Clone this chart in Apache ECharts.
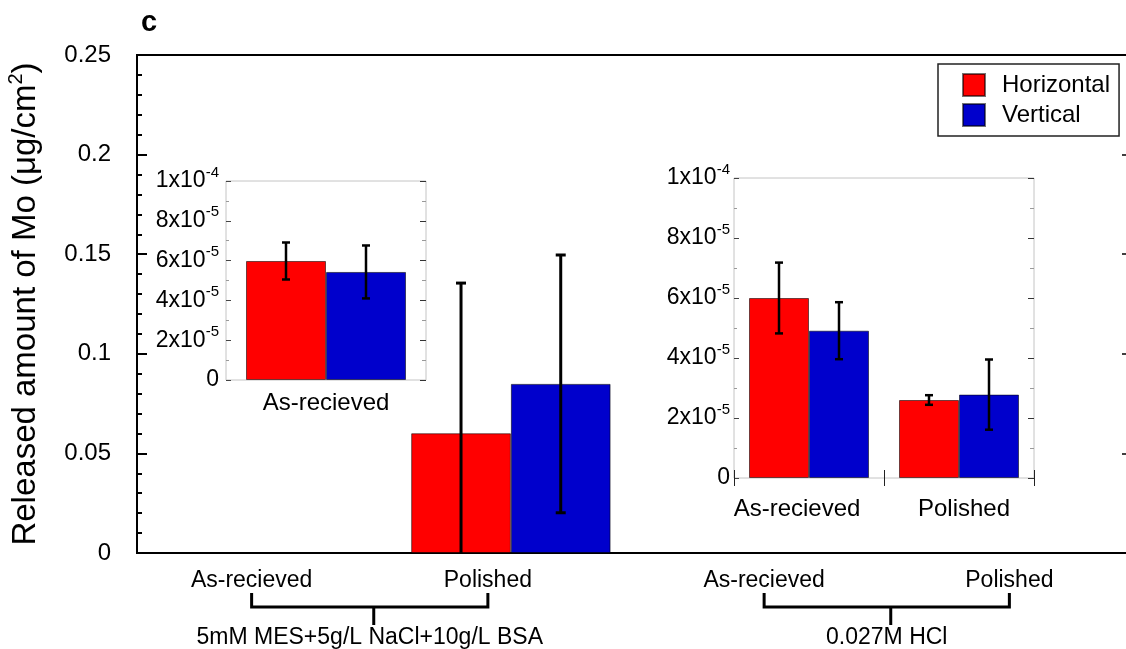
<!DOCTYPE html>
<html>
<head>
<meta charset="utf-8">
<script src="https://cdn.jsdelivr.net/npm/echarts@6/dist/echarts.min.js"></script>
<style>
  html, body { margin: 0; padding: 0; background: #fff; }
  #chart { width: 1126px; height: 649px; }
</style>
</head>
<body>
<div id="chart"></div>
<script>
// Surface condition for each bar pair, and the solution each pair was tested in
const conditions = ['As-recieved', 'Polished', 'As-recieved', 'Polished'];
const solutions = ['5mM MES+5g/L NaCl+10g/L BSA', '0.027M HCl'];
const solutionOf = [0, 0, 1, 1];

// Released Mo (µg/cm²), mean and ± error, per orientation
const horizontal    = [5.98e-5, 0.0601, 6.0e-5, 2.6e-5];
const horizontalErr = [0.93e-5, 0.0754, 1.18e-5, 0.16e-5];
const vertical      = [5.43e-5, 0.0849, 4.91e-5, 2.78e-5];
const verticalErr   = [1.33e-5, 0.0647, 0.95e-5, 1.17e-5];

// Which bars the two zoomed panels show
const insetLeft = [0];
const insetRight = [2, 3];

const mainTicks = { min: 0, max: 0.25, interval: 0.05 };
const insetTicks = { min: 0, max: 1e-4, interval: 2e-5 };

// Horizontal nudge of each category label (px)
const LABEL_SHIFT = [-10, -23, 4, 0];
const INSET_LABEL_SHIFT = [-12, 5];

const FONT = '"Liberation Sans", Arial, Helvetica, sans-serif';
const RED = '#ff0000';
const BLUE = '#0000cc';

const chart = echarts.init(document.getElementById('chart'), null, { renderer: 'canvas' });

function sciLabel(v) {
  if (v === 0) return '0';
  const parts = v.toExponential(0).split('e');
  return parts[0] + 'x10{s|' + parts[1].replace('+', '') + '}';
}

function errRender(side, capHalf, lw) {
  return function (params, api) {
    const c = api.value(0);
    const lo = api.coord([c, api.value(1)]);
    const hi = api.coord([c, api.value(2)]);
    if (Math.abs(lo[1] - hi[1]) < 1) return null;
    const bw = api.size([1, 0])[0];
    const x = lo[0] + side * bw * 0.2;
    const style = { stroke: '#000', lineWidth: lw };
    return {
      type: 'group',
      children: [
        { type: 'line', shape: { x1: x, y1: lo[1], x2: x, y2: hi[1] }, style: style },
        { type: 'line', shape: { x1: x - capHalf, y1: hi[1], x2: x + capHalf, y2: hi[1] }, style: style },
        { type: 'line', shape: { x1: x - capHalf, y1: lo[1], x2: x + capHalf, y2: lo[1] }, style: style }
      ]
    };
  };
}

function pick(arr, idx) { return idx.map(i => arr[i]); }

function barPair(xi, yi, idx) {
  const common = {
    type: 'bar', xAxisIndex: xi, yAxisIndex: yi,
    barGap: '0%', barCategoryGap: '20%',
    itemStyle: { borderColor: 'rgba(0,0,0,0.55)', borderWidth: 1 },
    emphasis: { disabled: true }
  };
  return [
    Object.assign({}, common, { name: 'Horizontal', data: pick(horizontal, idx),
      itemStyle: Object.assign({}, common.itemStyle, { color: RED }) }),
    Object.assign({}, common, { name: 'Vertical', data: pick(vertical, idx),
      itemStyle: Object.assign({}, common.itemStyle, { color: BLUE }) })
  ];
}

function errPair(xi, yi, idx, capHalf, lw) {
  const mk = (vals, errs) => idx.map((k, j) => [j, vals[k] - errs[k], vals[k] + errs[k]]);
  const common = { type: 'custom', xAxisIndex: xi, yAxisIndex: yi, clip: true, z: 5, silent: true,
    encode: { x: 0, y: [1, 2] } };
  return [
    Object.assign({}, common, { renderItem: errRender(-1, capHalf, lw), data: mk(horizontal, horizontalErr) }),
    Object.assign({}, common, { renderItem: errRender(1, capHalf, lw), data: mk(vertical, verticalErr) })
  ];
}

const insetYLabel = (fs, margin) => ({
  fontFamily: FONT, color: '#000', margin: margin,
  formatter: sciLabel,
  rich: {
    s: { fontFamily: FONT, fontSize: 15, lineHeight: 15, verticalAlign: 'top', color: '#000' }
  },
  fontSize: fs, lineHeight: 32
});

function insetYAxes(gi, labelMargin) {
  return [
    Object.assign({ type: 'value', gridIndex: gi, position: 'left' }, insetTicks, {
      axisLine: { show: false }, splitLine: { show: false },
      axisTick: { show: true, inside: true, length: 5, lineStyle: { color: '#444', width: 1 } },
      minorTick: { show: true, splitNumber: 2, length: 3, lineStyle: { color: '#999', width: 1 } },
      axisLabel: insetYLabel(23, labelMargin)
    }),
    Object.assign({ type: 'value', gridIndex: gi, position: 'right' }, insetTicks, {
      axisLine: { show: false }, splitLine: { show: false },
      axisTick: { show: true, inside: true, length: 6, lineStyle: { color: '#333', width: 1 } },
      minorTick: { show: true, splitNumber: 2, length: 4, lineStyle: { color: '#999', width: 1 } },
      axisLabel: { show: false }
    })
  ];
}

function shiftedRich(shifts, fs) {
  const r = {};
  shifts.forEach((s, i) => {
    r['l' + i] = {
      fontFamily: FONT, fontSize: fs, color: '#000',
      padding: s < 0 ? [0, -2 * s, 0, 0] : [0, 0, 0, 2 * s]
    };
  });
  return r;
}
const shiftedFormatter = (v, i) => '{l' + i + '|' + v + '}';

const gridBase = { outerBoundsMode: 'none', containLabel: false };

const option = {
  backgroundColor: '#fff',
  animation: false,
  title: {
    text: 'c', left: 136, top: 3,
    textStyle: { fontFamily: FONT, fontSize: 29, fontWeight: 'bold', color: '#000' }
  },
  legend: {
    data: ['Horizontal', 'Vertical'],
    orient: 'vertical', left: 938, top: 64,
    padding: [9, 9, 9, 24], itemGap: 6,
    itemWidth: 22, itemHeight: 22, icon: 'rect',
    borderColor: '#222', borderWidth: 1.5, backgroundColor: '#fff',
    selectedMode: false,
    textStyle: { fontFamily: FONT, fontSize: 24, color: '#000', lineHeight: 22, padding: [0, 0, 0, 12] }
  },
  grid: [
    Object.assign({ left: 137, top: 55, right: -8, bottom: 96, show: true, borderColor: '#000', borderWidth: 2,
      backgroundColor: 'transparent' }, gridBase),
    Object.assign({ left: 226, top: 181, width: 200, height: 199, show: true, borderColor: '#c4c4c4', borderWidth: 1,
      backgroundColor: '#fff' }, gridBase),
    Object.assign({ left: 734, top: 178, width: 300, height: 300, show: true, borderColor: '#c4c4c4', borderWidth: 1,
      backgroundColor: '#fff' }, gridBase)
  ],
  xAxis: [
    { type: 'category', gridIndex: 0, data: conditions,
      axisLine: { show: false }, axisTick: { show: false },
      axisLabel: { margin: 16, interval: 0, formatter: shiftedFormatter, rich: shiftedRich(LABEL_SHIFT, 23) } },
    { type: 'category', gridIndex: 1, data: pick(conditions, insetLeft),
      axisLine: { show: false }, axisTick: { show: false },
      axisLabel: { margin: 11, interval: 0, fontFamily: FONT, fontSize: 24, color: '#000' } },
    { type: 'category', gridIndex: 2, data: pick(conditions, insetRight),
      axisLine: { show: false },
      axisTick: { show: true, inside: true, length: 8, lineStyle: { color: '#222', width: 1 } },
      axisLabel: { margin: 19, interval: 0, formatter: shiftedFormatter, rich: shiftedRich(INSET_LABEL_SHIFT, 24) } },
    { type: 'category', gridIndex: 2, position: 'top', data: pick(conditions, insetRight),
      axisLine: { show: false },
      axisTick: { show: true, inside: true, length: 8, lineStyle: { color: '#222', width: 1 } },
      axisLabel: { show: false } }
  ],
  yAxis: [
    Object.assign({ type: 'value', gridIndex: 0, position: 'left' }, mainTicks, {
      name: '{a|Released amount of Mo (μg/cm}{s|2}{a|)}',
      nameLocation: 'middle', nameRotate: 90, nameGap: 91,
      nameTextStyle: {
        rich: {
          a: { fontFamily: FONT, fontSize: 33, lineHeight: 40, color: '#000' },
          s: { fontFamily: FONT, fontSize: 20, lineHeight: 20, verticalAlign: 'top', color: '#000' }
        }
      },
      axisLine: { show: false }, splitLine: { show: false },
      axisTick: { show: true, inside: true, length: 10, lineStyle: { color: '#000', width: 2 } },
      minorTick: { show: true, splitNumber: 5, length: 5, lineStyle: { color: '#000', width: 2 } },
      axisLabel: { margin: 26, fontFamily: FONT, fontSize: 24, color: '#000' }
    }),
    Object.assign({ type: 'value', gridIndex: 0, position: 'right' }, mainTicks, {
      axisLine: { show: false }, splitLine: { show: false },
      axisTick: { show: true, inside: true, length: 12, lineStyle: { color: '#000', width: 1.5 } },
      axisLabel: { show: false }
    })
  ].concat(insetYAxes(1, 7), insetYAxes(2, 4)),
  series: [].concat(
    barPair(0, 0, [0, 1, 2, 3]),
    errPair(0, 0, [0, 1, 2, 3], 5, 3),
    barPair(1, 2, insetLeft),
    errPair(1, 2, insetLeft, 4, 2.5),
    barPair(2, 4, insetRight),
    errPair(2, 4, insetRight, 4, 2.5)
  )
};

chart.setOption(option);

// Brackets grouping the condition labels under each solution
const labelX = conditions.map((c, i) => chart.convertToPixel({ xAxisIndex: 0 }, i) + LABEL_SHIFT[i]);
const graphics = [];
solutions.forEach((name, g) => {
  const members = labelX.filter((x, i) => solutionOf[i] === g);
  const x0 = Math.min.apply(null, members);
  const x1 = Math.max.apply(null, members);
  const mid = (x0 + x1) / 2 + 4;
  graphics.push({
    type: 'polyline', silent: true,
    shape: { points: [[x0, 593], [x0, 607], [x1, 607], [x1, 593]] },
    style: { stroke: '#000', lineWidth: 3, fill: null }
  });
  graphics.push({
    type: 'line', silent: true,
    shape: { x1: mid, y1: 607, x2: mid, y2: 625 },
    style: { stroke: '#000', lineWidth: 3 }
  });
  graphics.push({
    type: 'text', silent: true,
    style: { text: name, x: mid - 4, y: 626, align: 'center', verticalAlign: 'top',
      font: '23px ' + FONT, fill: '#000' }
  });
});
chart.setOption({ graphic: graphics });
</script>
</body>
</html>
